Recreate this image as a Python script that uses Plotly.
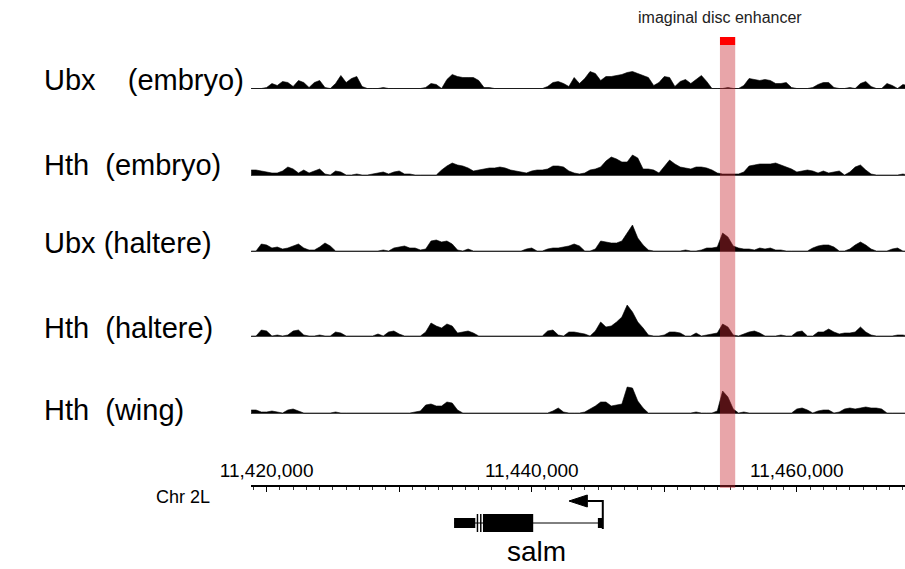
import plotly.graph_objects as go

W, H = 905, 569
FONT = "Liberation Sans, Arial, Helvetica, sans-serif"

# ---------------- data ----------------
BIN_SIZE = 400
BIN_START = 11418800
N_BINS = 125
positions = [BIN_START + BIN_SIZE * i for i in range(N_BINS)]

track_names = ["Ubx    (embryo)", "Hth  (embryo)", "Ubx (haltere)", "Hth  (haltere)", "Hth  (wing)"]

ubx_embryo = [
    0, 0, 0, 1, 5, 3, 7, 6, 2, 8,
    6, 1, 6, 8, 1, 0, 5, 13, 6, 10,
    12, 2, 0, 0, 0, 1, 0, 0, 0, 0,
    0, 0, 0, 1, 5, 4, 0, 9, 14, 12,
    11, 11, 11, 8, 1, 1, 0, 0, 0, 0,
    0, 0, 0, 0, 0, 0, 2, 6, 7, 5,
    2, 11, 5, 10, 17, 15, 8, 12, 12, 13,
    14, 16, 17, 15, 13, 11, 3, 6, 12, 11,
    2, 7, 9, 5, 9, 13, 7, 0, 0, 0,
    1, 0, 0, 3, 10, 9, 8, 9, 8, 5,
    5, 6, 1, 0, 0, 0, 1, 4, 6, 6,
    1, 0, 0, 1, 0, 5, 7, 2, 0, 0,
    5, 3, 0, 4, 3,
]
hth_embryo = [
    5, 5, 4, 3, 2, 2, 4, 8, 6, 2,
    5, 2, 4, 6, 1, 0, 4, 3, 0, 0,
    1, 0, 0, 1, 2, 3, 1, 3, 4, 1,
    1, 0, 0, 0, 0, 0, 5, 9, 12, 10,
    9, 7, 4, 5, 6, 7, 7, 8, 7, 5,
    4, 3, 2, 4, 5, 5, 6, 9, 9, 8,
    4, 2, 1, 2, 5, 6, 8, 14, 18, 16,
    13, 13, 20, 17, 6, 6, 5, 2, 9, 15,
    11, 8, 7, 6, 8, 8, 7, 5, 2, 1,
    1, 1, 1, 3, 9, 10, 11, 11, 11, 12,
    10, 8, 6, 3, 4, 5, 4, 2, 4, 2,
    3, 4, 0, 3, 8, 10, 5, 1, 0, 0,
    0, 0, 0, 1, 0,
]
ubx_haltere = [
    0, 0, 7, 6, 3, 4, 2, 3, 5, 7,
    3, 1, 1, 4, 8, 5, 0, 0, 0, 0,
    0, 0, 0, 0, 0, 1, 0, 3, 4, 5,
    3, 3, 1, 2, 10, 11, 9, 10, 7, 1,
    0, 2, 0, 0, 0, 0, 0, 0, 0, 0,
    0, 0, 2, 3, 0, 0, 2, 3, 3, 4,
    5, 7, 5, 0, 0, 2, 10, 9, 8, 8,
    10, 18, 26, 13, 6, 1, 0, 0, 0, 0,
    0, 0, 1, 0, 0, 1, 3, 3, 4, 18,
    14, 5, 3, 2, 2, 1, 3, 2, 3, 1,
    1, 0, 0, 0, 0, 0, 3, 5, 6, 6,
    4, 0, 0, 2, 6, 9, 6, 2, 0, 0,
    0, 2, 3, 0, 0,
]
hth_haltere = [
    0, 0, 6, 5, 0, 1, 0, 1, 5, 6,
    1, 0, 0, 1, 0, 0, 4, 3, 0, 0,
    0, 0, 0, 0, 2, 0, 4, 5, 2, 0,
    0, 0, 0, 4, 13, 10, 8, 12, 10, 3,
    4, 5, 3, 0, 0, 0, 0, 0, 0, 0,
    0, 0, 0, 0, 0, 0, 5, 6, 1, 0,
    4, 4, 3, 2, 0, 5, 14, 9, 10, 14,
    19, 31, 24, 14, 8, 1, 0, 0, 1, 4,
    4, 3, 0, 0, 3, 0, 1, 2, 3, 12,
    9, 1, 0, 2, 4, 5, 3, 0, 0, 0,
    1, 0, 0, 4, 5, 0, 0, 4, 4, 7,
    4, 2, 3, 3, 4, 9, 4, 1, 0, 0,
    0, 0, 1, 1, 0,
]
hth_wing = [
    3, 3, 1, 1, 2, 1, 0, 3, 4, 2,
    0, 0, 0, 0, 0, 0, 1, 0, 0, 0,
    0, 0, 0, 0, 0, 0, 0, 0, 0, 0,
    0, 1, 2, 8, 9, 7, 7, 11, 10, 3,
    0, 0, 0, 0, 0, 0, 0, 0, 0, 0,
    0, 0, 0, 0, 0, 0, 0, 2, 5, 1,
    0, 0, 0, 1, 4, 7, 11, 11, 7, 8,
    9, 26, 25, 12, 5, 0, 0, 0, 0, 0,
    0, 0, 0, 0, 1, 0, 0, 0, 2, 22,
    16, 4, 0, 1, 0, 0, 0, 0, 0, 0,
    0, 0, 0, 4, 5, 3, 0, 2, 3, 3,
    0, 1, 4, 5, 4, 5, 6, 5, 5, 4,
    0, 0, 0, 0, 0,
]
tracks = [ubx_embryo, hth_embryo, ubx_haltere, hth_haltere, hth_wing]

enhancer_start, enhancer_end = 11454200, 11455350
enhancer_label = "imaginal disc enhancer"

ruler_ticks = [11420000, 11430000, 11440000, 11450000, 11460000]
ruler_labels = ["11,420,000", "", "11,440,000", "", "11,460,000"]
chrom_label = "Chr 2L"

gene_name = "salm"
utr_starts = [11434140, 11444990]
utr_ends = [11435740, 11445360]
cds_starts = [11435850, 11436100, 11436320]
cds_ends = [11435960, 11436210, 11440110]
tx_start, tx_end = 11434140, 11445360

# ---------------- layout helpers ----------------
X_MIN, X_MAX = 11418834, 11468160
PX_PER_BP = (W - 228) / (X_MAX - X_MIN)


def py(p):
    return 1 - p / H


baselines = [88.5, 175, 251, 336, 413]
label_y = [80, 165, 243, 328, 410]

fig = go.Figure()
layout = dict(
    width=W, height=H, autosize=False,
    margin=dict(l=0, r=0, t=0, b=0),
    paper_bgcolor="white", plot_bgcolor="rgba(0,0,0,0)",
    showlegend=False,
    font=dict(family=FONT, color="black"),
    xaxis=dict(domain=[228 / W, 1], range=[X_MIN, X_MAX], visible=False, fixedrange=True),
)

for k, (name, vals) in enumerate(zip(track_names, tracks)):
    ax = "" if k == 0 else str(k + 1)
    fig.add_trace(go.Scatter(
        x=positions, y=vals, xaxis="x", yaxis="y" + ax,
        mode="lines", line=dict(color="black", width=0.6, shape="linear"),
        fill="tozeroy", fillcolor="black", hoverinfo="skip",
    ))
    b = baselines[k]
    layout["yaxis" + ax] = dict(
        domain=[py(b + 1), py(b - 34)], range=[-1, 34], anchor="x",
        showgrid=False, showticklabels=False, ticks="",
        zeroline=True, zerolinecolor="#444", zerolinewidth=1, fixedrange=True,
    )

# gene / ruler subplot
fig.add_trace(go.Scatter(x=[tx_start, tx_end], y=[None, None], xaxis="x2", yaxis="y6",
                         mode="lines", hoverinfo="skip"))
GENE_TOP, GENE_BOT, GENE_MID = 487, 545, 523
layout["yaxis6"] = dict(domain=[py(GENE_BOT), py(GENE_TOP)],
                        range=[-(GENE_BOT - GENE_MID), GENE_MID - GENE_TOP],
                        anchor="x2", visible=False, fixedrange=True)
layout["xaxis2"] = dict(
    domain=[228 / W, 1], range=[X_MIN, X_MAX], anchor="y6", side="top",
    showline=True, linecolor="black", linewidth=2, showgrid=False, zeroline=False,
    tickmode="array", tickvals=ruler_ticks, ticktext=ruler_labels,
    ticks="inside", ticklen=5, tickwidth=1, tickcolor="black",
    minor=dict(tick0=11420000, dtick=1000, ticks="inside", ticklen=3, tickwidth=1, tickcolor="#333"),
    tickfont=dict(size=19, family=FONT, color="black"), fixedrange=True,
)

shapes = []
# intron line
shapes.append(dict(type="line", xref="x2", yref="y6", x0=tx_start, x1=tx_end, y0=0, y1=0,
                   line=dict(color="black", width=1)))
for s, e in zip(utr_starts, utr_ends):
    shapes.append(dict(type="rect", xref="x2", yref="y6", x0=s, x1=e, y0=-5, y1=5,
                       fillcolor="black", line=dict(width=0)))
for s, e in zip(cds_starts, cds_ends):
    shapes.append(dict(type="rect", xref="x2", yref="y6", x0=s, x1=e, y0=-9, y1=9,
                       fillcolor="black", line=dict(width=0)))
# TSS arrow (minus strand -> points left)
arrow_y = GENE_MID - 501
head_len = 19 / PX_PER_BP
tip = tx_end - 35 / PX_PER_BP
shapes.append(dict(type="path", xref="x2", yref="y6",
                   path=f"M {tx_end},-6 L {tx_end},{arrow_y} L {tip + head_len},{arrow_y}",
                   line=dict(color="black", width=2)))
shapes.append(dict(type="path", xref="x2", yref="y6",
                   path=f"M {tip},{arrow_y} L {tip + head_len},{arrow_y + 6} L {tip + head_len},{arrow_y - 6} Z",
                   fillcolor="black", line=dict(color="black", width=1)))

# enhancer highlight
shapes.append(dict(type="rect", xref="x", yref="paper", x0=enhancer_start, x1=enhancer_end,
                   y0=py(488), y1=py(45), fillcolor="rgba(200,40,50,0.42)",
                   line=dict(width=0), layer="above"))
shapes.append(dict(type="rect", xref="x", yref="paper", x0=enhancer_start, x1=enhancer_end,
                   y0=py(45), y1=py(37), fillcolor="#ff0000", line=dict(width=0), layer="above"))
layout["shapes"] = shapes

annotations = []
for name, yc in zip(track_names, label_y):
    annotations.append(dict(text=name, xref="paper", yref="paper", x=11 / W, y=py(yc),
                            xanchor="left", yanchor="middle", showarrow=False,
                            font=dict(size=29, family=FONT, color="black")))
annotations.append(dict(text=enhancer_label, xref="paper", yref="paper",
                        x=713 / W, y=py(18),
                        xanchor="center", yanchor="middle", showarrow=False,
                        font=dict(size=16, family=FONT, color="#222")))
annotations.append(dict(text=chrom_label, xref="paper", yref="paper", x=157 / W, y=py(497),
                        xanchor="center", yanchor="middle", showarrow=False,
                        font=dict(size=18, family=FONT, color="black")))
annotations.append(dict(text=gene_name, xref="paper", yref="paper", x=523 / W, y=0,
                        xanchor="center", yanchor="bottom", showarrow=False,
                        font=dict(size=28, family=FONT, color="black")))
layout["annotations"] = annotations

fig.update_layout(**layout)
fig.write_html("out.html", config={"displayModeBar": False},
               post_script="document.body.style.margin='0';")
